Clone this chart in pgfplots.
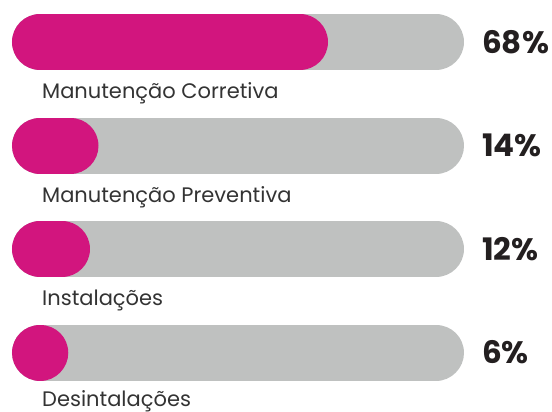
\documentclass[border=0pt]{standalone}
\usepackage{fontspec}
\setmainfont{Poppins}
\usepackage{pgfplots}
\pgfplotsset{compat=1.18}
\definecolor{barfill}{HTML}{D2157E}
\definecolor{track}{HTML}{BFC1C0}
\definecolor{labeltext}{HTML}{333333}
\definecolor{pcttext}{HTML}{231F20}

\tikzset{
    lbl/.style={anchor=base west, inner sep=0pt, text=labeltext,
        font=\fontsize{21}{25}\selectfont},
    pct/.style={anchor=west, inner sep=0pt, text=pcttext,
        font=\fontsize{31}{36}\selectfont\bfseries},
}

% 1 unit of x = 1 percent, 0% at 39px, 100% at the end of the grey track
% #1 = y centre of the bar, #2 = percent
\newcommand{\progressbar}[2]{%
  \pgfmathsetmacro{\barend}{max(0.3,#2-6.588)}%
  \addplot[track, line width=56pt, line cap=round] coordinates {(0.235,#1) (93.41,#1)};
  \addplot[barfill, line width=56pt, line cap=round] coordinates {(0.235,#1) (\barend,#1)};
}

\begin{document}
\begin{tikzpicture}
\begin{axis}[
    at={(0,0)}, anchor=south west,
    width=552pt, height=412pt, scale only axis,
    xmin=-9.176, xmax=120.706,
    ymin=0, ymax=412, y dir=reverse,
    axis lines=none, clip=false,
]
\progressbar{42}{68}
\progressbar{145.5}{14}
\progressbar{249}{12}
\progressbar{352.5}{6}

\node[lbl] at (axis cs:0.706,99) {Manutenção Corretiva};
\node[lbl] at (axis cs:0.706,202) {Manutenção Preventiva};
\node[lbl] at (axis cs:0.706,305) {Instalações};
\node[lbl] at (axis cs:0.706,406) {Desintalações};

\node[pct] at (axis cs:104.24,42) {68\%};
\node[pct] at (axis cs:104.24,145.5) {14\%};
\node[pct] at (axis cs:104.24,249) {12\%};
\node[pct] at (axis cs:104.24,352.5) {6\%};
\end{axis}
\pgfresetboundingbox
\path (0,0) rectangle (552pt,412pt);
\end{tikzpicture}
\end{document}
